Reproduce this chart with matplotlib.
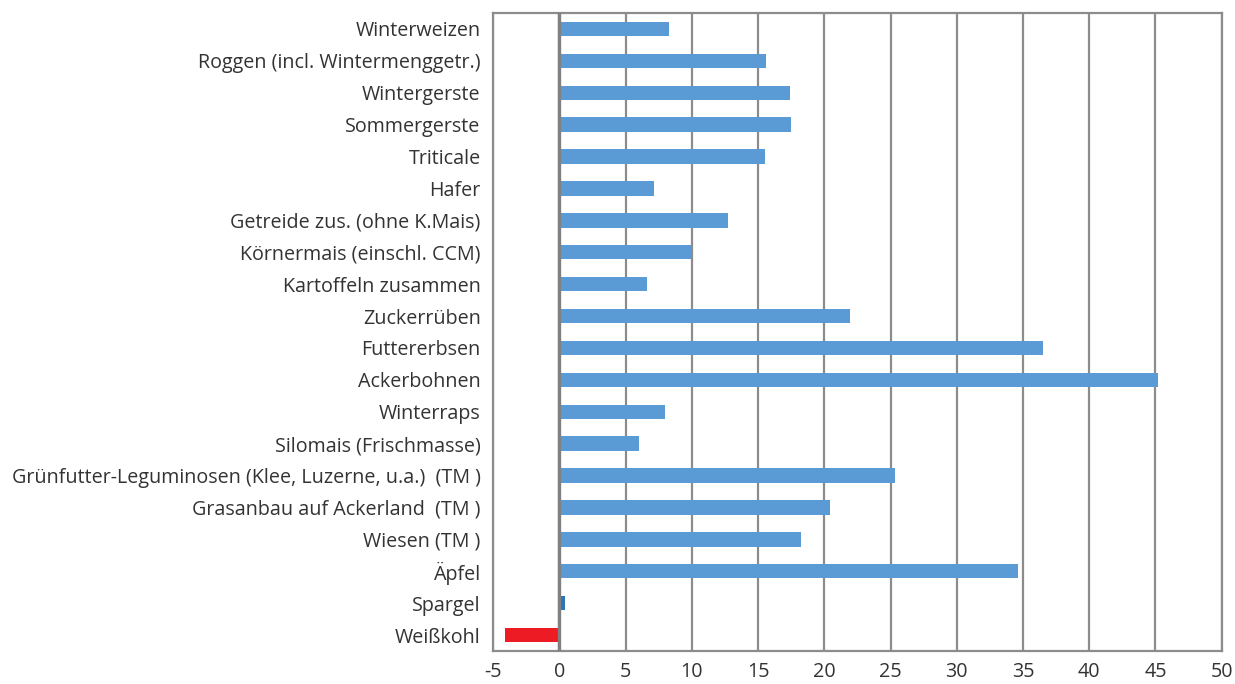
import matplotlib
matplotlib.use("Agg")
import matplotlib.pyplot as plt
import numpy as np

# Kategorien (von oben nach unten) und Werte
categories = [
    "Winterweizen",
    "Roggen (incl. Wintermenggetr.)",
    "Wintergerste",
    "Sommergerste",
    "Triticale",
    "Hafer",
    "Getreide zus. (ohne K.Mais)",
    "Körnermais (einschl. CCM)",
    "Kartoffeln zusammen",
    "Zuckerrüben",
    "Futtererbsen",
    "Ackerbohnen",
    "Winterraps",
    "Silomais (Frischmasse)",
    "Grünfutter-Leguminosen (Klee, Luzerne, u.a.)  (TM )",
    "Grasanbau auf Ackerland  (TM )",
    "Wiesen (TM )",
    "Äpfel",
    "Spargel",
    "Weißkohl",
]
values = [8.3, 15.6, 17.4, 17.5, 15.5, 7.1, 12.7, 9.9, 6.6, 21.9,
          36.5, 45.2, 8.0, 6.0, 25.3, 20.4, 18.2, 34.6, 0.4, -4.1]

BLUE = "#5B9BD5"
DARK_BLUE = "#2E75B6"
RED = "#ED1C24"
GRID = "#8C8C8C"

colors = [BLUE] * len(values)
colors[categories.index("Spargel")] = DARK_BLUE
colors[categories.index("Weißkohl")] = RED

plt.rcParams["font.family"] = ["Open Sans", "DejaVu Sans"]
plt.rcParams["axes.unicode_minus"] = False

fig = plt.figure(figsize=(12.35, 6.84), dpi=100)
ax = fig.add_axes([0.3994, 0.0482, 0.5898, 0.9328])

y = np.arange(len(categories))
ax.barh(y, values, height=0.45, color=colors, zorder=3)

ax.set_xlim(-5, 50)
ax.set_ylim(len(categories) - 0.5, -0.5)
ax.set_xticks(np.arange(-5, 51, 5))
ax.set_yticks(y)
ax.set_yticklabels(categories)

ax.xaxis.grid(True, color=GRID, linewidth=1.6, zorder=1)
ax.axvline(0, color="#808080", linewidth=2.4, zorder=4)
for s in ax.spines.values():
    s.set_color(GRID)
    s.set_linewidth(1.6)

ax.tick_params(axis="both", length=0, labelsize=14.2, labelcolor="#333333")
ax.tick_params(axis="y", pad=9)
ax.tick_params(axis="x", pad=8)

fig.savefig("out.png", dpi=100)
